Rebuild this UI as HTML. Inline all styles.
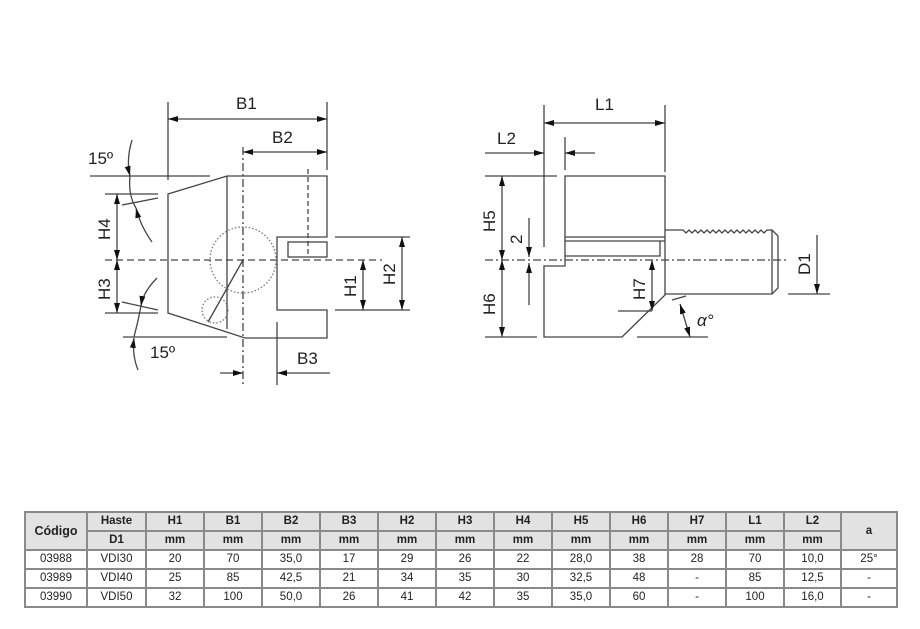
<!DOCTYPE html>
<html><head><meta charset="utf-8"><style>
body{margin:0;background:#fff;width:920px;height:629px;overflow:hidden;position:relative;font-family:"Liberation Sans",sans-serif}
svg{position:absolute;left:0;top:0}
table{position:absolute;left:24px;top:511px;border-collapse:collapse;table-layout:fixed;font-size:11.5px;color:#222}
tr{height:19px}
td{border:2px solid #8a8a8a;text-align:center;padding:0;line-height:15px}
.h td,.h2 td{background:#e2e2e2;font-weight:bold}
</style></head><body>
<svg width="920" height="500" viewBox="0 0 920 500" font-family="Liberation Sans, sans-serif" font-size="17" fill="none" stroke="#444" stroke-width="1.3">
<defs>
<marker id="a" viewBox="0 0 10 6" refX="10" refY="3" markerWidth="10" markerHeight="6" markerUnits="userSpaceOnUse" orient="auto-start-reverse"><path d="M0,0L10,3L0,6z" fill="#111" stroke="none"/></marker>
</defs>
<!-- LEFT VIEW -->
<line x1="168" y1="102" x2="168" y2="180"/>
<line x1="327" y1="102" x2="327" y2="170"/>
<line x1="168" y1="119" x2="327" y2="119" marker-start="url(#a)" marker-end="url(#a)"/>
<line x1="243" y1="147" x2="243" y2="385" stroke-dasharray="8,3,2,3"/>
<line x1="243" y1="152" x2="327" y2="152" marker-start="url(#a)" marker-end="url(#a)"/>
<path d="M227,176H327V237H277V310H327V338H245L168,313V194L227,176Z"/>
<line x1="227" y1="176" x2="227" y2="329"/>
<line x1="308" y1="169" x2="308" y2="257" stroke-dasharray="5,3"/>
<rect x="288" y="242" width="39" height="15"/>
<line x1="105" y1="260" x2="382" y2="260" stroke-dasharray="7,4"/>
<circle cx="243" cy="260" r="33" stroke-dasharray="1.5,2" stroke="#777"/>
<circle cx="215" cy="310" r="13" stroke-dasharray="1.5,2" stroke="#777"/>
<line x1="243" y1="260" x2="208" y2="322"/>
<line x1="335" y1="237" x2="410" y2="237"/>
<line x1="335" y1="310" x2="410" y2="310"/>
<line x1="363" y1="260" x2="363" y2="310" marker-start="url(#a)" marker-end="url(#a)"/>
<line x1="402" y1="237" x2="402" y2="310" marker-start="url(#a)" marker-end="url(#a)"/>
<line x1="277" y1="322" x2="277" y2="385"/>
<line x1="220" y1="373" x2="243" y2="373" marker-end="url(#a)"/>
<line x1="330" y1="373" x2="277" y2="373" marker-end="url(#a)"/>
<line x1="90" y1="176" x2="210" y2="176"/>
<line x1="123" y1="337" x2="227" y2="337"/>
<line x1="105" y1="194" x2="158" y2="194"/>
<line x1="122" y1="205" x2="158" y2="198"/>
<line x1="105" y1="313" x2="158" y2="313"/>
<line x1="122" y1="302" x2="158" y2="310"/>
<line x1="117" y1="194" x2="117" y2="260" marker-start="url(#a)" marker-end="url(#a)"/>
<line x1="117" y1="260" x2="117" y2="313" marker-start="url(#a)" marker-end="url(#a)"/>
<path d="M132,140Q126,160 130,176" marker-end="url(#a)"/>
<path d="M152,242Q140,225 136,208" marker-end="url(#a)"/>
<path d="M130,176Q128,195 136,208"/>
<path d="M157,278Q143,292 141,306" marker-end="url(#a)"/>
<path d="M141,306Q138,322 134,337"/>
<path d="M138,370Q132,355 134,338" marker-end="url(#a)"/>
<g fill="#222" stroke="none">
<text x="236" y="109">B1</text>
<text x="272" y="143">B2</text>
<text x="297" y="364">B3</text>
<text x="88" y="164">15º</text>
<text x="150" y="358">15º</text>
<text transform="translate(110,240) rotate(-90)">H4</text>
<text transform="translate(110,300) rotate(-90)">H3</text>
<text transform="translate(356,297) rotate(-90)">H1</text>
<text transform="translate(395,285) rotate(-90)">H2</text>
</g>
<!-- RIGHT VIEW -->
<line x1="544" y1="105" x2="544" y2="247"/>
<line x1="665" y1="105" x2="665" y2="172"/>
<line x1="544" y1="123" x2="665" y2="123" marker-start="url(#a)" marker-end="url(#a)"/>
<line x1="485" y1="153" x2="544" y2="153" marker-end="url(#a)"/>
<line x1="565" y1="137" x2="565" y2="170"/>
<line x1="595" y1="153" x2="565" y2="153" marker-end="url(#a)"/>
<path d="M565,260V176H665V295L622,337H544V266H565V260"/>
<line x1="565" y1="237" x2="665" y2="237"/>
<line x1="565" y1="241" x2="665" y2="241"/>
<path d="M565,256H660V241"/>
<path d="M665,230H683l3,3 3,-3 3,3 3,-3 3,3 3,-3 3,3 3,-3 3,3 3,-3 3,3 3,-3 3,3 3,-3 3,3 3,-3 3,3 3,-3 3,3 3,-3 3,3 3,-3 3,3 3,-3 3,3 3,-3 3,3 3,-3H772L778,236V288L772,294H665"/>
<line x1="772" y1="230" x2="772" y2="294"/>
<line x1="485" y1="260" x2="788" y2="260" stroke-dasharray="8,3,2,3"/>
<line x1="485" y1="176" x2="557" y2="176"/>
<line x1="502" y1="176" x2="502" y2="260" marker-start="url(#a)" marker-end="url(#a)"/>
<line x1="502" y1="260" x2="502" y2="337" marker-start="url(#a)" marker-end="url(#a)"/>
<line x1="485" y1="337" x2="537" y2="337"/>
<line x1="529" y1="218" x2="529" y2="257" marker-end="url(#a)"/>
<line x1="529" y1="305" x2="529" y2="263" marker-end="url(#a)"/>
<line x1="652" y1="260" x2="652" y2="311" marker-start="url(#a)" marker-end="url(#a)"/>
<line x1="618" y1="311" x2="652" y2="311"/>
<line x1="817" y1="235" x2="817" y2="294" marker-end="url(#a)"/>
<line x1="788" y1="294" x2="830" y2="294"/>
<line x1="637" y1="337" x2="708" y2="337"/>
<line x1="680" y1="304" x2="690" y2="337" marker-start="url(#a)" marker-end="url(#a)"/>
<line x1="672" y1="300" x2="686" y2="296"/>
<g fill="#222" stroke="none">
<text x="595" y="110">L1</text>
<text x="497" y="144">L2</text>
<text x="697" y="326" font-style="italic">α°</text>
<text transform="translate(495,232) rotate(-90)">H5</text>
<text transform="translate(495,315) rotate(-90)">H6</text>
<text transform="translate(522,244) rotate(-90)">2</text>
<text transform="translate(645,300) rotate(-90)">H7</text>
<text transform="translate(810,275) rotate(-90)">D1</text>
</g>
</svg>
<table>
<colgroup><col style="width:62px"><col style="width:59px"><col style="width:58px"><col style="width:58px"><col style="width:58px"><col style="width:58px"><col style="width:58px"><col style="width:58px"><col style="width:58px"><col style="width:58px"><col style="width:58px"><col style="width:58px"><col style="width:58px"><col style="width:57px"><col style="width:56px"></colgroup>
<tr class="h"><td rowspan="2" style="font-size:12.5px">Código</td><td>Haste</td><td>H1</td><td>B1</td><td>B2</td><td>B3</td><td>H2</td><td>H3</td><td>H4</td><td>H5</td><td>H6</td><td>H7</td><td>L1</td><td>L2</td><td rowspan="2">a</td></tr>
<tr class="h2"><td>D1</td><td>mm</td><td>mm</td><td>mm</td><td>mm</td><td>mm</td><td>mm</td><td>mm</td><td>mm</td><td>mm</td><td>mm</td><td>mm</td><td>mm</td></tr>
<tr><td>03988</td><td>VDI30</td><td>20</td><td>70</td><td>35,0</td><td>17</td><td>29</td><td>26</td><td>22</td><td>28,0</td><td>38</td><td>28</td><td>70</td><td>10,0</td><td>25°</td></tr>
<tr><td>03989</td><td>VDI40</td><td>25</td><td>85</td><td>42,5</td><td>21</td><td>34</td><td>35</td><td>30</td><td>32,5</td><td>48</td><td>-</td><td>85</td><td>12,5</td><td>-</td></tr>
<tr><td>03990</td><td>VDI50</td><td>32</td><td>100</td><td>50,0</td><td>26</td><td>41</td><td>42</td><td>35</td><td>35,0</td><td>60</td><td>-</td><td>100</td><td>16,0</td><td>-</td></tr>
</table>
</body></html>
